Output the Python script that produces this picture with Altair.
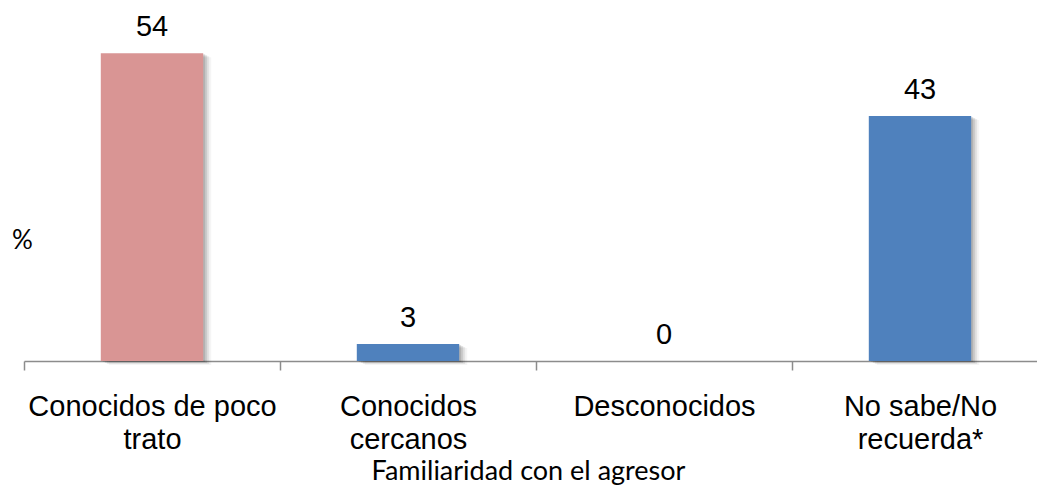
import altair as alt
import pandas as pd

categories = ["Conocidos de poco\ntrato", "Conocidos\ncercanos", "Desconocidos", "No sabe/No\nrecuerda*"]
values = [54, 3, 0, 43]
colors = ["#D99594", "#4F81BD", "#4F81BD", "#4F81BD"]

df = pd.DataFrame({"cat": categories, "val": values, "color": colors})

x = alt.X(
    "cat:N",
    sort=categories,
    scale=alt.Scale(range=[0, 1024], paddingInner=0, paddingOuter=0),
    axis=alt.Axis(
        title="Familiaridad con el agresor",
        titleFont="Lato",
        titleFontSize=27,
        titleFontWeight="normal",
        titleColor="black",
        titleX=504,
        titleY=118,
        titleAlign="center",
        titleBaseline="alphabetic",
        labelExpr="split(datum.label, '\\n')",
        labelAngle=0,
        labelFont="Liberation Sans",
        labelFontSize=29,
        labelColor="black",
        labelLineHeight=33,
        labelLimit=0,
        labelOverlap=False,
        labelPadding=22,
        tickBand="extent",
        tickSize=9,
        tickColor="#8c8c8c",
        tickWidth=1.5,
        domainColor="#8c8c8c",
        domainWidth=1.5,
        grid=False,
    ),
)
y = alt.Y(
    "val:Q",
    scale=alt.Scale(domain=[0, 60], nice=False),
    axis=alt.Axis(
        title="%",
        titleAngle=0,
        titleFont="Lato",
        titleFontSize=26,
        titleFontWeight="normal",
        titleColor="black",
        titleX=-2,
        titleY=221,
        titleAlign="center",
        titleBaseline="middle",
        domain=False,
        ticks=False,
        labels=False,
        grid=False,
    ),
)

base = alt.Chart(df).encode(x=x, y=y)

shadows = [
    base.mark_bar(width=alt.RelativeBandSize(0.4), color="#000000", opacity=op, xOffset=off, yOffset=off / 2)
    for off, op in [(8, 0.04), (6, 0.07), (4, 0.1), (2, 0.12)]
]

bars = base.mark_bar(width=alt.RelativeBandSize(0.4)).encode(color=alt.Color("color:N", scale=None))

labels = base.mark_text(
    dy=-17, baseline="alphabetic", font="Liberation Sans", fontSize=29, color="black"
).encode(text="val:Q")

chart = alt.layer(*shadows, bars, labels).properties(
    width=1013,
    height=342,
    autosize=alt.AutoSizeParams(type="none"),
    padding={"left": 24, "top": 19, "right": 0, "bottom": 125},
).configure_view(stroke=None)

chart.save("out.html", embed_options={"renderer": "svg", "actions": False})
